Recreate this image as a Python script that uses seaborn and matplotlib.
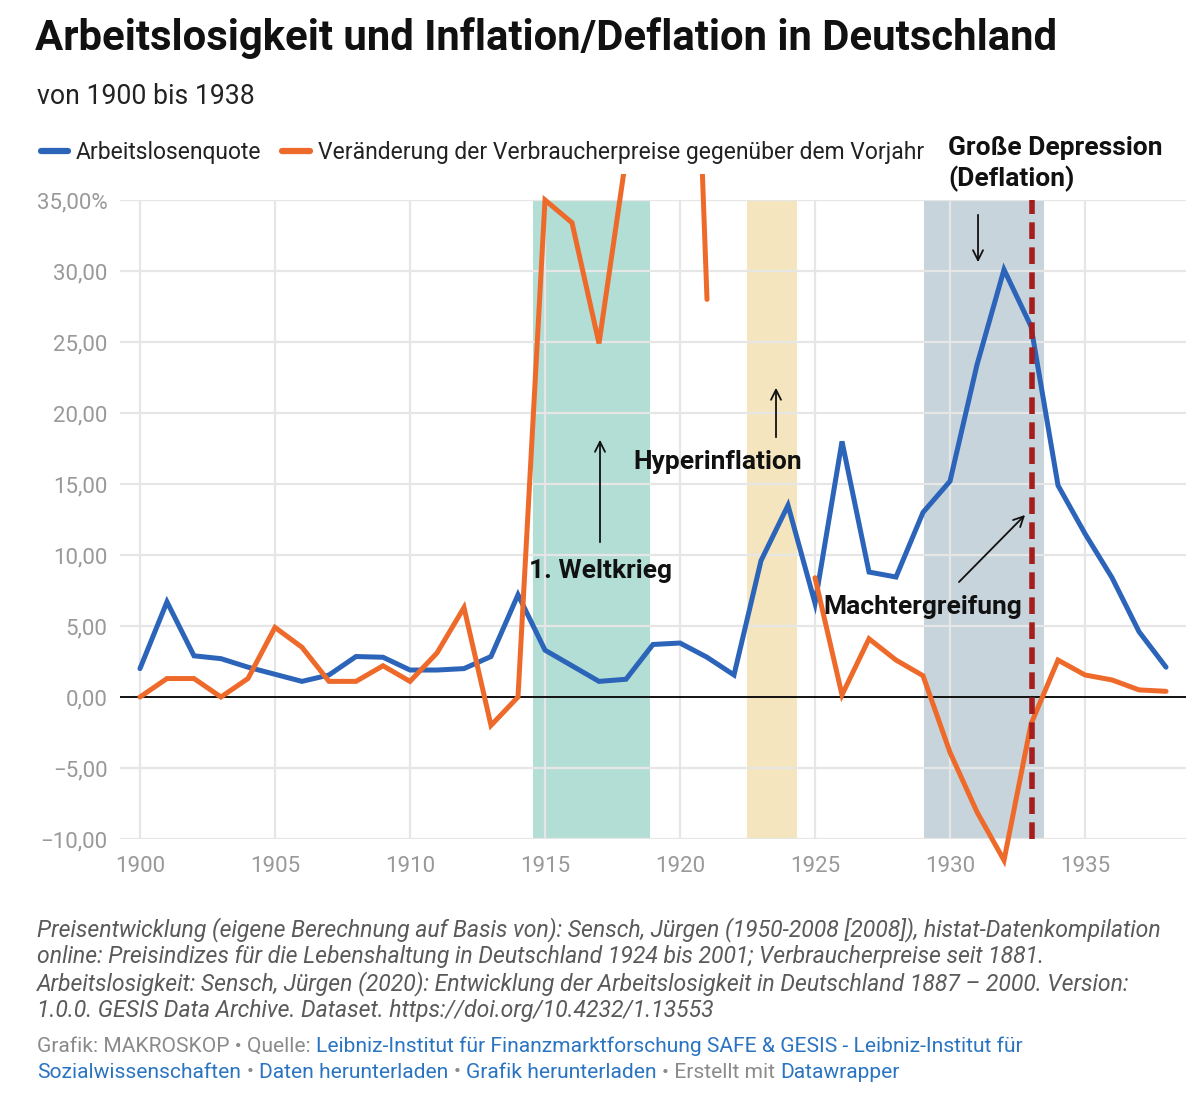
import numpy as np
import pandas as pd
import matplotlib.pyplot as plt
import seaborn as sns
from matplotlib.patches import Rectangle
from matplotlib.lines import Line2D
from matplotlib.ticker import FuncFormatter

# Daten
jahre = list(range(1900, 1939))
arbeitslosenquote = [2.0, 6.7, 2.9, 2.7, 2.1, 1.6, 1.1, 1.55, 2.85, 2.8,
                     1.9, 1.9, 2.0, 2.85, 7.2, 3.3, 2.2, 1.1, 1.25, 3.7,
                     3.8, 2.8, 1.55, 9.6, 13.5, 6.6, 18.0, 8.8, 8.45, 13.0,
                     15.2, 23.4, 30.1, 26.1, 14.9, 11.5, 8.4, 4.6, 2.1]
verbraucherpreise = [0.0, 1.3, 1.3, 0.0, 1.3, 4.9, 3.5, 1.1, 1.1, 2.2,
                     1.1, 3.1, 6.3, -2.0, 0.0, 35.0, 33.4, 24.9, 38.0, 110.0,
                     80.0, 28.0, np.nan, np.nan, np.nan, 8.4, 0.15, 4.1, 2.6, 1.5,
                     -3.9, -8.1, -11.5, -1.9, 2.6, 1.55, 1.2, 0.5, 0.4]
reihen = ['Arbeitslosenquote',
          'Veränderung der Verbraucherpreise gegenüber dem Vorjahr']
farben = ['#2b64b8', '#ee6a2b']

zeitraeume = [(1914.56, 1918.89, '#b3ded5'),
              (1922.48, 1924.33, '#f4e5be'),
              (1929.04, 1933.48, '#c8d4db')]
machtergreifung = 1933.05

sns.set_style('white')
plt.rcParams['font.family'] = ['Roboto', 'DejaVu Sans']

df = pd.DataFrame({'Jahr': jahre * 2,
                   'Wert': arbeitslosenquote + verbraucherpreise,
                   'Reihe': [reihen[0]] * len(jahre) + [reihen[1]] * len(jahre)})
# Lücken (Hyperinflation ohne Werte) als eigene Abschnitte
df['Abschnitt'] = df['Wert'].isna().cumsum()
df = df.dropna()

W, H = 1200, 1114
fig = plt.figure(figsize=(W / 100, H / 100), dpi=100)
ax = fig.add_axes([120 / W, 1 - 839 / H, (1186 - 120) / W, (839 - 200) / H])

for start, ende, farbe in zeitraeume:
    ax.axvspan(start, ende, color=farbe, lw=0, zorder=0.5)

for y in range(-10, 40, 5):
    if y != 0:
        ax.axhline(y, color='#e6e6e6', lw=1.6, zorder=1)
for x in range(1900, 1940, 5):
    ax.axvline(x, color='#e6e6e6', lw=1.6, zorder=1)
ax.axhline(0, color='#111111', lw=1.4, zorder=1.5)

sns.lineplot(data=df, x='Jahr', y='Wert', hue='Reihe', units='Abschnitt',
             estimator=None, palette=dict(zip(reihen, farben)), lw=3.6,
             legend=False, ax=ax, zorder=3)

ax.set_xlim(1899.26, 1938.74)
ax.set_ylim(-10, 35)

# Linien dürfen etwas über den Rand hinausragen (wie bei Datawrapper)
clip = Rectangle((1899, -20), 40, 56.8, transform=ax.transData)
for line in ax.lines:
    if line.get_linewidth() > 3:
        line.set_clip_path(clip)
        line.set_solid_capstyle('round')
        line.set_solid_joinstyle('miter')

ax.axvline(machtergreifung, color='#a51d1d', lw=4, dashes=(3.0, 1.5), zorder=4)

ax.set_xticks(range(1900, 1940, 5))
ax.set_yticks(range(-10, 40, 5))
ax.yaxis.set_major_formatter(FuncFormatter(
    lambda v, p: '35,00%' if v == 35 else f'{v:.2f}'.replace('.', ',').replace('-', '\u2212')))
ax.tick_params(length=0, labelsize=16, labelcolor='#999999')
ax.tick_params(axis='y', pad=9)
ax.tick_params(axis='x', pad=12)
ax.set_xlabel('')
ax.set_ylabel('')
sns.despine(ax=ax, left=True, bottom=True)


def dx(px):
    return 1900 + (px - 140) / 27.0


def dy(py):
    return (697 - py) / 14.2


pfeil = dict(arrowstyle='->', color='#111111', lw=1.3, mutation_scale=18)
anno = dict(fontsize=19, fontweight='bold', color='#111111', zorder=6)

ax.text(dx(601), dy(571), '1. Weltkrieg', ha='center', va='center', **anno)
ax.annotate('', xy=(dx(600), dy(437)), xytext=(dx(600), dy(545)), arrowprops=pfeil)
ax.text(dx(718), dy(462), 'Hyperinflation', ha='center', va='center', **anno)
ax.annotate('', xy=(dx(776), dy(385)), xytext=(dx(776), dy(440)), arrowprops=pfeil)
ax.text(dx(948), dy(164), 'Große Depression\n(Deflation)', ha='left', va='center',
        linespacing=1.25, clip_on=False, **anno)
ax.annotate('', xy=(dx(978), dy(265)), xytext=(dx(978), dy(212)), arrowprops=pfeil,
            annotation_clip=False)
ax.text(dx(923), dy(607), 'Machtergreifung', ha='center', va='center', **anno)
ax.annotate('', xy=(dx(1027), dy(513)), xytext=(dx(957), dy(584)), arrowprops=pfeil)


def ft(x, y, s, **kw):
    return fig.text(x / W, 1 - y / H, s, **kw)


ft(35, 38, 'Arbeitslosigkeit und Inflation/Deflation in Deutschland',
   fontsize=30.2, fontweight='bold', color='#111111', va='center')
ft(37, 97, 'von 1900 bis 1938', fontsize=19.2, color='#222222', va='center')

griffe = [Line2D([0], [0], color=f, lw=4.5, solid_capstyle='round') for f in farben]
fig.legend(griffe, reihen, loc='center left', bbox_to_anchor=(20 / W, 1 - 153 / H),
           ncol=2, frameon=False, fontsize=16.5, handlelength=1.2,
           handletextpad=0.35, columnspacing=0.9, labelcolor='#222222')

quellen = ['Preisentwicklung (eigene Berechnung auf Basis von): Sensch, Jürgen (1950-2008 [2008]), histat-Datenkompilation',
           'online: Preisindizes für die Lebenshaltung in Deutschland 1924 bis 2001; Verbraucherpreise seit 1881.',
           'Arbeitslosigkeit: Sensch, Jürgen (2020): Entwicklung der Arbeitslosigkeit in Deutschland 1887 – 2000. Version:',
           '1.0.0. GESIS Data Archive. Dataset. https://doi.org/10.4232/1.13553']
for i, zeile in enumerate(quellen):
    ft(37, 930 + i * 27, zeile, fontsize=16.6, style='italic', color='#5a5a5a', va='center')

grau, blau = '#8a8a8a', '#2a74c1'
renderer = fig.canvas.get_renderer()


def kette(teile, x, y, size=15.1):
    luecke = size * 100 / 72 * 0.26
    for txt, col in teile:
        t = ft(x, y, txt, fontsize=size, color=col, va='center')
        x += t.get_window_extent(renderer).width + luecke


kette([('Grafik: MAKROSKOP • Quelle:', grau),
       ('Leibniz-Institut für Finanzmarktforschung SAFE & GESIS - Leibniz-Institut für', blau)],
      37, 1046)
kette([('Sozialwissenschaften', blau), ('•', grau), ('Daten herunterladen', blau),
       ('•', grau), ('Grafik herunterladen', blau), ('• Erstellt mit', grau),
       ('Datawrapper', blau)], 37, 1072)

fig.savefig('out.png', dpi=100, facecolor='white')
